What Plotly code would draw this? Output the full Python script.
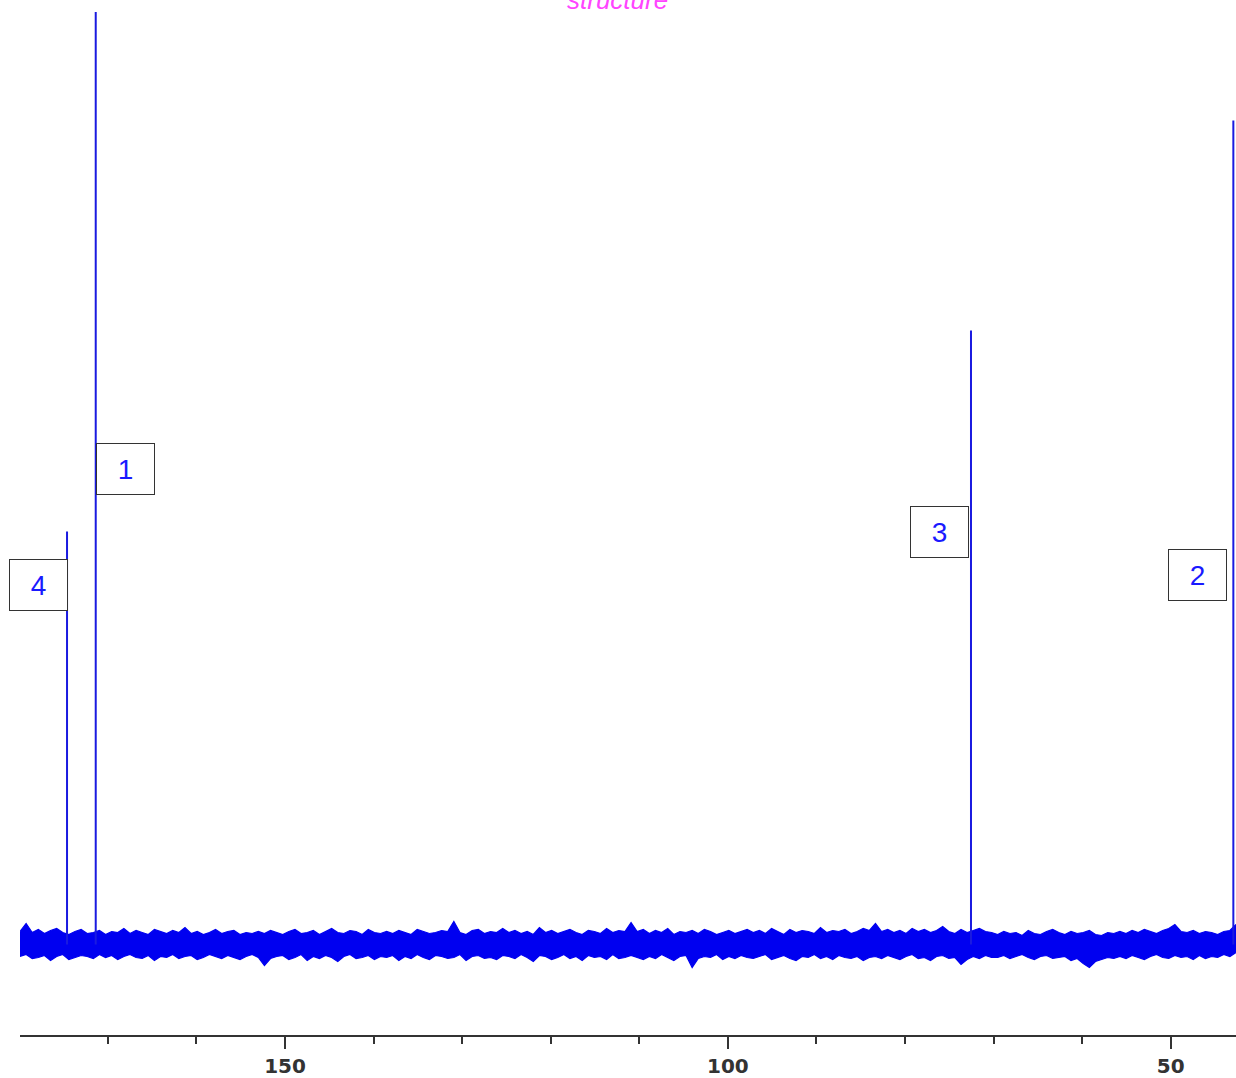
import numpy as np
import plotly.graph_objects as go

# ---------------- data ----------------
ppm_start, ppm_end = 179.92, 42.63          # spectral window (ppm)

peak_ppm = [171.37, 42.93, 72.55, 174.61]
peak_height = [100.0, 82.4, 61.4, 41.3]
peak_labels = ["1", "2", "3", "4"]

tick_values = [150, 100, 50]
tick_labels = ["150", "100", "50"]

# baseline noise envelope (upper / lower excursions)
noise_upper = [
    1.3, 2.1, 1.2, 1.5, 1.1, 1.4, 1.6, 1.2, 1.0, 1.3, 1.5, 1.1, 1.2, 1.4, 1.0, 1.3, 1.2, 1.6, 1.1, 1.4,
    1.2, 1.0, 1.5, 1.3, 1.1, 1.4, 1.2, 1.7, 1.1, 1.3, 1.0, 1.2, 1.5, 1.1, 1.3, 1.4, 1.0, 1.2, 1.1, 1.3,
    1.1, 1.4, 1.2, 1.0, 1.3, 1.5, 1.1, 1.2, 1.4, 1.0, 1.3, 1.6, 1.2, 1.1, 1.4, 1.3, 1.0, 1.5, 1.2, 1.1,
    1.3, 1.1, 1.4, 1.2, 1.0, 1.5, 1.3, 1.1, 1.2, 1.4, 1.3, 2.3, 1.2, 1.0, 1.4, 1.5, 1.1, 1.3, 1.2, 1.6,
    1.2, 1.4, 1.1, 1.3, 1.0, 1.7, 1.2, 1.4, 1.1, 1.3, 1.5, 1.2, 1.0, 1.4, 1.3, 1.1, 1.6, 1.2, 1.4, 1.3,
    2.2, 1.3, 1.5, 1.1, 1.4, 1.2, 1.6, 1.0, 1.3, 1.2, 1.4, 1.1, 1.5, 1.3, 1.0, 1.2, 1.4, 1.1, 1.3, 1.5,
    1.2, 1.4, 1.1, 1.6, 1.3, 1.0, 1.5, 1.2, 1.4, 1.3, 1.1, 1.7, 1.2, 1.4, 1.3, 1.5, 1.1, 1.3, 1.6, 1.4,
    2.1, 1.3, 1.5, 1.2, 1.4, 1.1, 1.6, 1.3, 1.5, 1.2, 1.4, 1.8, 1.3, 1.1, 1.5, 1.2, 1.4, 1.6, 1.3, 1.2,
    1.0, 1.3, 1.1, 1.2, 0.9, 1.4, 1.1, 1.0, 1.3, 1.5, 1.2, 1.0, 1.3, 1.1, 1.2, 1.4, 1.0, 0.9, 1.2, 1.1,
    1.3, 1.1, 1.4, 1.2, 1.5, 1.3, 1.1, 1.4, 1.6, 2.0, 1.3, 1.2, 1.4, 1.1, 1.3, 1.2, 1.0, 1.3, 1.4, 2.0,
]
noise_lower = [
    -1.2, -1.0, -1.4, -1.3, -1.1, -1.6, -1.2, -1.0, -1.5, -1.3, -1.1, -1.2, -1.4, -1.0, -1.3, -1.1, -1.5, -1.2, -1.0, -1.3,
    -1.4, -1.1, -1.6, -1.2, -1.3, -1.0, -1.4, -1.2, -1.1, -1.5, -1.3, -1.0, -1.2, -1.4, -1.1, -1.3, -1.5, -1.2, -1.0, -1.3,
    -2.1, -1.4, -1.2, -1.1, -1.5, -1.3, -1.0, -1.6, -1.2, -1.4, -1.1, -1.3, -1.7, -1.2, -1.0, -1.4, -1.3, -1.1, -1.5, -1.2,
    -1.3, -1.1, -1.6, -1.2, -1.4, -1.0, -1.3, -1.5, -1.1, -1.2, -1.4, -1.3, -1.0, -1.6, -1.2, -1.1, -1.4, -1.3, -1.5, -1.1,
    -1.2, -1.4, -1.0, -1.3, -1.7, -1.1, -1.2, -1.5, -1.3, -1.0, -1.4, -1.2, -1.6, -1.1, -1.3, -1.2, -1.5, -1.0, -1.4, -1.3,
    -1.1, -1.3, -1.5, -1.2, -1.4, -1.0, -1.3, -1.6, -1.2, -1.1, -2.3, -1.4, -1.2, -1.3, -1.0, -1.5, -1.2, -1.4, -1.1, -1.3,
    -1.4, -1.2, -1.0, -1.5, -1.3, -1.1, -1.4, -1.6, -1.2, -1.3, -1.0, -1.4, -1.2, -1.5, -1.1, -1.3, -1.4, -1.2, -1.6, -1.3,
    -1.2, -1.4, -1.1, -1.3, -1.5, -1.2, -1.0, -1.4, -1.3, -1.6, -1.2, -1.1, -1.4, -1.3, -2.0, -1.5, -1.2, -1.4, -1.1, -1.3,
    -1.3, -1.1, -1.4, -1.2, -1.0, -1.3, -1.5, -1.2, -1.1, -1.4, -1.3, -1.2, -1.6, -1.4, -1.9, -2.3, -1.7, -1.5, -1.3, -1.4,
    -1.2, -1.4, -1.1, -1.3, -1.5, -1.2, -1.0, -1.3, -1.4, -1.1, -1.3, -1.2, -1.5, -1.1, -1.4, -1.2, -1.3, -1.0, -1.2, -0.8,
]

# ---------------- styles ----------------
BLUE = "#0000f0"
PEAK_BLUE = "#1a1ae0"
AXIS = "#333333"
label_y = [47.6, 37.0, 41.3, 36.0]
label_anchor = ["left", "right", "right", "right"]
label_xshift = [0, -6, -2, 1]

noise_ppm = np.linspace(ppm_start, ppm_end, len(noise_upper))

fig = go.Figure()
fig.add_trace(go.Scatter(x=noise_ppm, y=noise_lower, mode="lines", line=dict(color=BLUE, width=1.2),
                         hoverinfo="skip", showlegend=False))
fig.add_trace(go.Scatter(x=noise_ppm, y=noise_upper, mode="lines", line=dict(color=BLUE, width=1.2),
                         fill="tonexty", fillcolor=BLUE, hoverinfo="skip", showlegend=False))

for p, h in zip(peak_ppm, peak_height):
    fig.add_trace(go.Scatter(x=[p, p], y=[0, h], mode="lines", line=dict(color=PEAK_BLUE, width=2),
                             showlegend=False))

for p, lab, ly, anc, xs in zip(peak_ppm, peak_labels, label_y, label_anchor, label_xshift):
    fig.add_annotation(x=p, y=ly, xref="x", yref="y", text=lab, showarrow=False,
                       xanchor=anc, yanchor="middle", xshift=xs,
                       width=57, height=50, borderwidth=1, bordercolor=AXIS, borderpad=0,
                       bgcolor="white",
                       font=dict(family="Liberation Sans, Arial", size=28, color="#1a1aff"))

fig.add_annotation(x=0.5, y=1, xref="paper", yref="paper", text="<i>structure</i>", showarrow=False,
                   xanchor="center", yanchor="bottom", yshift=-5, xshift=-11,
                   font=dict(family="Liberation Sans, Arial", size=26, color="#ff44ff"))

fig.update_layout(
    width=1236, height=1078,
    margin=dict(l=20, r=0, t=12, b=43),
    paper_bgcolor="white", plot_bgcolor="white",
    showlegend=False,
    xaxis=dict(range=[ppm_start, ppm_end], showgrid=False, zeroline=False,
               showline=True, linecolor=AXIS, linewidth=2,
               tickmode="array", tickvals=tick_values, ticktext=tick_labels,
               ticks="outside", ticklen=12, tickwidth=2, tickcolor=AXIS,
               minor=dict(dtick=10, tick0=0, ticks="outside", ticklen=7, tickwidth=1.5, tickcolor=AXIS),
               tickfont=dict(family="DejaVu Sans", size=20, color=AXIS, weight="bold")),
    yaxis=dict(range=[-9.05, 93.25], visible=False, showgrid=False, zeroline=False),
)

fig.write_html("out.html", config={"displayModeBar": False},
               post_script="document.body.style.margin='0px';document.body.style.overflow='hidden';")
